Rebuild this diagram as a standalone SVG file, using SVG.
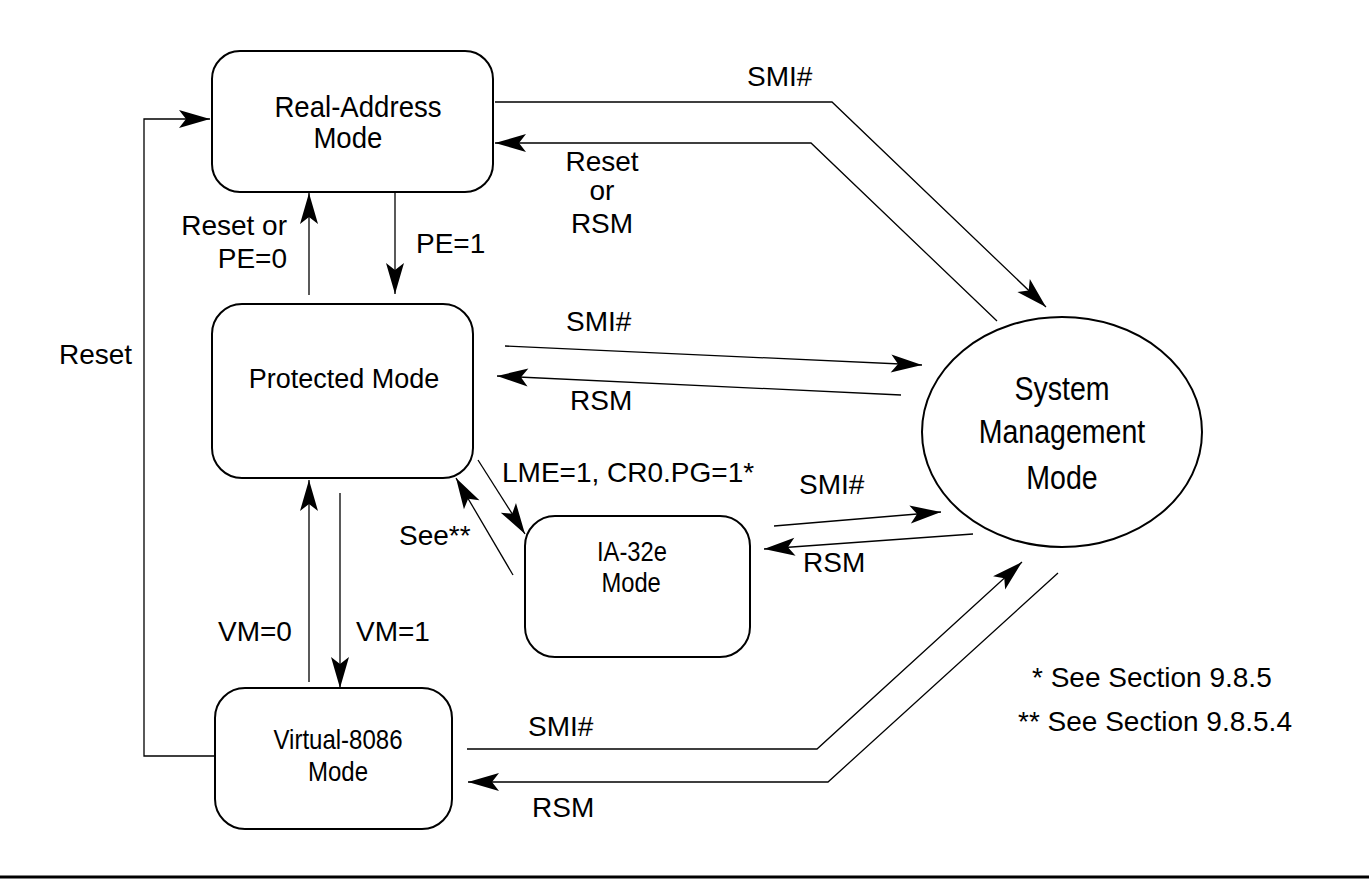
<svg xmlns="http://www.w3.org/2000/svg" width="1369" height="879" viewBox="0 0 1369 879">
<defs>
<style>
.box{fill:#fff;stroke:#000;stroke-width:2}
.ln{fill:none;stroke:#000;stroke-width:1.3}
.bt{font-family:"Liberation Sans",Arial,sans-serif;font-size:27px;fill:#000;text-anchor:middle}
.lb{font-family:"Liberation Sans",Arial,sans-serif;font-size:28px;fill:#000}
</style>
<marker id="ah" markerUnits="userSpaceOnUse" markerWidth="34" markerHeight="20" viewBox="-33 -10 34 20" refX="0" refY="0" orient="auto">
<path d="M0,0 L-31,-9 L-24,0 L-31,9 Z" fill="#000"/>
</marker>
</defs>
<rect width="1369" height="879" fill="#fff"/>
<g id="connectors">
<polyline class="ln" points="215,756 144,756 144,119 210,119" marker-end="url(#ah)"/>
<line class="ln" x1="309" y1="295" x2="309" y2="193" marker-end="url(#ah)"/>
<line class="ln" x1="395" y1="192" x2="395" y2="294" marker-end="url(#ah)"/>
<line class="ln" x1="309" y1="682" x2="309" y2="480" marker-end="url(#ah)"/>
<line class="ln" x1="340" y1="493" x2="340" y2="688" marker-end="url(#ah)"/>
<line class="ln" x1="478" y1="460" x2="525" y2="534" marker-end="url(#ah)"/>
<line class="ln" x1="513" y1="575" x2="456" y2="478" marker-end="url(#ah)"/>
<polyline class="ln" points="495,102 832,102 1046,307" marker-end="url(#ah)"/>
<polyline class="ln" points="997,321 811,143 495,143" marker-end="url(#ah)"/>
<line class="ln" x1="505" y1="346" x2="922" y2="365" marker-end="url(#ah)"/>
<line class="ln" x1="901" y1="395" x2="497" y2="376" marker-end="url(#ah)"/>
<line class="ln" x1="774" y1="526" x2="941" y2="512" marker-end="url(#ah)"/>
<line class="ln" x1="973" y1="534" x2="764" y2="549" marker-end="url(#ah)"/>
<polyline class="ln" points="467,749 817,749 1022,562" marker-end="url(#ah)"/>
<polyline class="ln" points="1058,573 828,782 468,782" marker-end="url(#ah)"/>
</g>
<g id="labels">
<text class="lb" x="59" y="364">Reset</text>
<text class="lb" x="287" y="235" text-anchor="end">Reset or</text>
<text class="lb" x="287" y="268" text-anchor="end">PE=0</text>
<text class="lb" x="416" y="253">PE=1</text>
<text class="lb" x="218" y="641">VM=0</text>
<text class="lb" x="356" y="641">VM=1</text>
<text class="lb" x="502" y="482">LME=1, CR0.PG=1*</text>
<text class="lb" x="399" y="545">See**</text>
<text class="lb" x="747" y="86">SMI#</text>
<text class="lb" x="602" y="171" text-anchor="middle">Reset</text>
<text class="lb" x="602" y="200" text-anchor="middle">or</text>
<text class="lb" x="602" y="233" text-anchor="middle">RSM</text>
<text class="lb" x="566" y="331">SMI#</text>
<text class="lb" x="570" y="410">RSM</text>
<text class="lb" x="799" y="494">SMI#</text>
<text class="lb" x="803" y="572">RSM</text>
<text class="lb" x="528" y="736">SMI#</text>
<text class="lb" x="532" y="817">RSM</text>
<text class="lb" x="1032" y="687">* See Section 9.8.5</text>
<text class="lb" x="1018" y="731">** See Section 9.8.5.4</text>
</g>
<g id="real-address">
<rect class="box" x="212" y="51" width="281" height="141" rx="28"/>
<g transform="translate(358,0) scale(0.92,1)">
<text class="bt" x="0" y="117" style="font-size:30px">Real-Address</text>
<text class="bt" x="-11" y="148" style="font-size:30px">Mode</text>
</g>
</g>
<g id="protected">
<rect class="box" x="212" y="304" width="261" height="174" rx="30"/>
<text class="bt" x="344" y="388">Protected Mode</text>
</g>
<g id="ia32e">
<rect class="box" x="525" y="516" width="225" height="141" rx="30"/>
<g transform="translate(632,0) scale(0.88,1)">
<text class="bt" x="0" y="561">IA-32e</text>
<text class="bt" x="-1" y="592">Mode</text>
</g>
</g>
<g id="virtual-8086">
<rect class="box" x="215" y="688" width="237" height="141" rx="30"/>
<g transform="translate(338,0) scale(0.89,1)">
<text class="bt" x="0" y="749">Virtual-8086</text>
<text class="bt" x="0" y="781">Mode</text>
</g>
</g>
<g id="smm">
<ellipse class="box" cx="1062" cy="432" rx="140" ry="115"/>
<g transform="translate(1062,0) scale(0.84,1)">
<text class="bt" x="0" y="400" style="font-size:34px">System</text>
<text class="bt" x="0" y="443" style="font-size:34px">Management</text>
<text class="bt" x="0" y="489" style="font-size:34px">Mode</text>
</g>
</g>
<line x1="0" y1="877" x2="1369" y2="877" stroke="#000" stroke-width="3"/>
</svg>
